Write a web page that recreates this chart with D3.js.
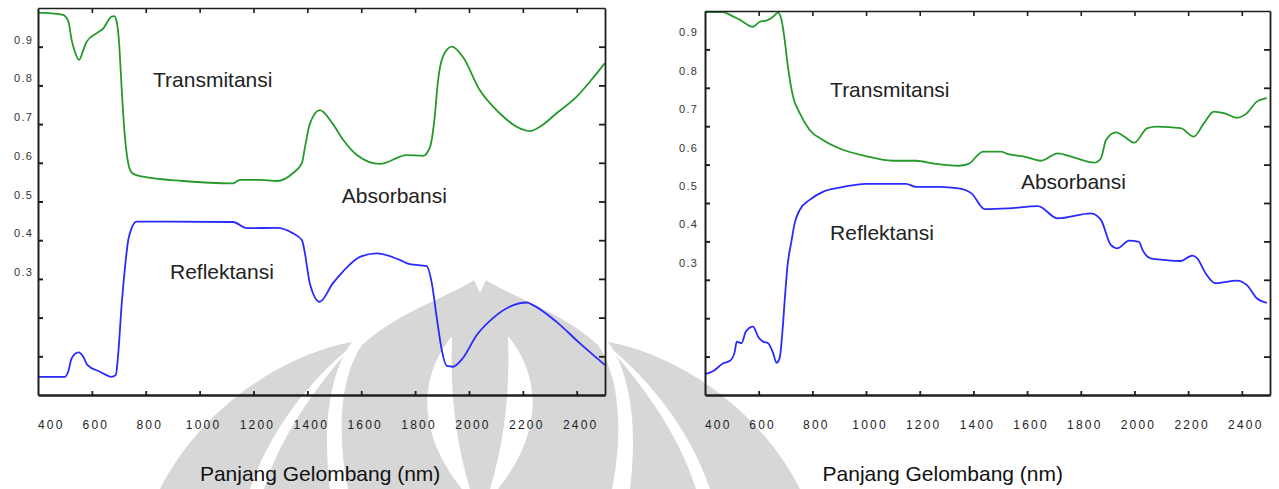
<!DOCTYPE html>
<html>
<head>
<meta charset="utf-8">
<script src="https://cdn.jsdelivr.net/npm/d3@7"></script>
<style>
  html, body { margin: 0; padding: 0; background: #fff; }
  svg { display: block; font-family: Arial, "Liberation Sans", sans-serif; }
  .axis path, .axis line { stroke: #1e1e1e; }
  .tick-x { font-size: 12px; letter-spacing: 2.2px; fill: #222; }
  .tick-y { font-size: 11px; letter-spacing: 1.2px; fill: #333; }
  .note { font-size: 21px; fill: #222; }
  .axis-title { font-size: 21px; fill: #111; }
  .watermark { fill: #d7d7d7; }
  .watermark-gap { fill: #fff; }
</style>
</head>
<body>
<svg id="chart" width="1279" height="489"></svg>
<script>
const xTicks = [400, 600, 800, 1000, 1200, 1400, 1600, 1800, 2000, 2200, 2400];
const yTicks = [0.1, 0.2, 0.3, 0.4, 0.5, 0.6, 0.7, 0.8, 0.9];
const yLabels = [0.3, 0.4, 0.5, 0.6, 0.7, 0.8, 0.9];
const xDomain = [400, 2505];

// [panjang gelombang (nm), nilai]
const leftTransmitansi = [
  [400, 0.988], [450, 0.986], [493, 0.982], [513, 0.965], [525, 0.917], [537, 0.887],
  [553, 0.866], [568, 0.891], [581, 0.913], [618, 0.935], [642, 0.947], [673, 0.978],
  [683, 0.979], [692, 0.965], [700, 0.92], [710, 0.80], [720, 0.69], [730, 0.62],
  [740, 0.585], [752, 0.572], [790, 0.564], [938, 0.553], [1124, 0.547], [1150, 0.556],
  [1224, 0.556], [1287, 0.553], [1346, 0.573], [1380, 0.60], [1391, 0.64], [1409, 0.70],
  [1446, 0.736], [1495, 0.70], [1532, 0.66], [1584, 0.62], [1669, 0.597], [1769, 0.62],
  [1829, 0.618], [1855, 0.64], [1873, 0.72], [1884, 0.806], [1903, 0.874], [1936, 0.90],
  [1977, 0.874], [2040, 0.788], [2114, 0.728], [2177, 0.693], [2226, 0.682], [2263, 0.693],
  [2325, 0.728], [2400, 0.771], [2459, 0.818], [2504, 0.857]
];

const leftReflektansi = [
  [400, 0.047], [500, 0.047], [512, 0.06], [525, 0.095], [550, 0.110], [568, 0.099],
  [583, 0.078], [630, 0.06], [673, 0.047], [689, 0.052], [698, 0.108], [710, 0.228],
  [723, 0.33], [735, 0.40], [745, 0.426], [766, 0.448], [1124, 0.447], [1175, 0.431],
  [1287, 0.432], [1346, 0.418], [1380, 0.40], [1390, 0.37], [1409, 0.289], [1446, 0.241],
  [1495, 0.289], [1532, 0.319], [1595, 0.357], [1658, 0.366], [1743, 0.349], [1780, 0.338],
  [1843, 0.333], [1862, 0.289], [1880, 0.202], [1899, 0.116], [1918, 0.075], [1940, 0.073],
  [1977, 0.095], [2029, 0.155], [2088, 0.198], [2151, 0.228], [2214, 0.239], [2236, 0.233],
  [2325, 0.189], [2411, 0.134], [2504, 0.078]
];

const rightTransmitansi = [
  [400, 0.997], [468, 0.997], [493, 0.99], [530, 0.977], [579, 0.959], [604, 0.972],
  [629, 0.975], [654, 0.985], [672, 0.996], [685, 0.977], [697, 0.924], [709, 0.855],
  [728, 0.777], [753, 0.734], [790, 0.69], [839, 0.664], [901, 0.642], [1000, 0.622],
  [1099, 0.61], [1186, 0.61], [1247, 0.603], [1345, 0.597], [1380, 0.601], [1436, 0.634],
  [1504, 0.634], [1529, 0.627], [1590, 0.621], [1652, 0.61], [1714, 0.629], [1776, 0.618],
  [1850, 0.605], [1875, 0.616], [1894, 0.664], [1931, 0.684], [1962, 0.673], [1999, 0.657],
  [2048, 0.695], [2085, 0.699], [2172, 0.695], [2221, 0.673], [2259, 0.708], [2296, 0.738],
  [2333, 0.734], [2382, 0.722], [2419, 0.734], [2456, 0.764], [2493, 0.773]
];

const rightReflektansi = [
  [400, 0.054], [431, 0.0625], [468, 0.0825], [493, 0.089], [511, 0.113], [518, 0.139],
  [536, 0.135], [552, 0.165], [579, 0.178], [598, 0.152], [616, 0.139], [635, 0.135],
  [654, 0.109], [666, 0.084], [678, 0.096], [688, 0.161], [697, 0.247], [707, 0.334],
  [722, 0.40], [734, 0.447], [753, 0.482], [790, 0.508], [839, 0.529], [901, 0.54],
  [1000, 0.55], [1149, 0.55], [1186, 0.542], [1272, 0.542], [1345, 0.538], [1393, 0.525],
  [1442, 0.484], [1529, 0.486], [1640, 0.492], [1714, 0.46], [1838, 0.473], [1875, 0.456],
  [1912, 0.391], [1937, 0.382], [1980, 0.402], [2017, 0.399], [2030, 0.378], [2060, 0.356],
  [2110, 0.352], [2172, 0.349], [2215, 0.363], [2234, 0.356], [2265, 0.317], [2302, 0.291],
  [2382, 0.298], [2419, 0.286], [2456, 0.252], [2493, 0.24]
];

const leftNotes = [
  { text: "Transmitansi", nm: 827, value: 0.797 },
  { text: "Absorbansi", nm: 1528, value: 0.497 },
  { text: "Reflektansi", nm: 890, value: 0.301 }
];

const rightNotes = [
  { text: "Transmitansi", nm: 866, value: 0.776 },
  { text: "Absorbansi", nm: 1577, value: 0.536 },
  { text: "Reflektansi", nm: 866, value: 0.404 }
];

const svg = d3.select("#chart");

// watermark (logo samar di latar belakang)
const mark = svg.append("g");
mark.append("path").attr("class", "watermark")
  .attr("d", "M160,489 C200,410 280,355 352,342 C330,372 322,425 330,489 Z");
mark.append("path").attr("class", "watermark")
  .attr("d", "M800,489 C760,410 680,355 608,342 C630,372 638,425 630,489 Z");
mark.append("path").attr("class", "watermark")
  .attr("d", "M480,276 C455,295 400,310 362,345 C338,380 338,440 348,489 L612,489 C622,440 622,380 598,345 C560,310 505,295 480,276 Z");
mark.append("path").attr("class", "watermark-gap")
  .attr("d", "M352,346 C310,380 270,430 250,489 L264,489 C282,432 318,385 352,346 Z");
mark.append("path").attr("class", "watermark-gap")
  .attr("d", "M608,346 C650,380 690,430 710,489 L696,489 C678,432 642,385 608,346 Z");
mark.append("path").attr("class", "watermark-gap")
  .attr("d", "M452,336 C420,375 415,430 462,489 L470,489 C455,440 450,390 452,336 Z");
mark.append("path").attr("class", "watermark-gap")
  .attr("d", "M508,336 C540,375 545,430 498,489 L490,489 C505,440 510,390 508,336 Z");
mark.append("path").attr("class", "watermark-gap")
  .attr("d", "M472,276 L480,293 L488,276 Z");

function drawPanel(panel) {
  const x = d3.scaleLinear().domain(xDomain).range([panel.left, panel.right]);
  const y = d3.scaleLinear().domain([0, 1]).range([panel.bottom, panel.top]);
  const g = svg.append("g");

  const line = d3.line()
    .x((d) => x(d[0]))
    .y((d) => y(d[1]))
    .curve(d3.curveMonotoneX);

  g.append("path")
    .datum(panel.transmitansi)
    .attr("fill", "none")
    .attr("stroke", "#25992a")
    .attr("stroke-width", 1.8)
    .attr("d", line);

  g.append("path")
    .datum(panel.reflektansi)
    .attr("fill", "none")
    .attr("stroke", "#2a2aff")
    .attr("stroke-width", 1.8)
    .attr("d", line);

  const innerX = xTicks.slice(1);

  g.append("g")
    .attr("class", "axis")
    .attr("transform", `translate(0, ${panel.top})`)
    .call(d3.axisTop(x).tickValues(innerX).tickSize(-5).tickSizeOuter(0).tickFormat(""))
    .call((a) => a.selectAll("path, line").attr("stroke-width", 1.6));

  g.append("g")
    .attr("class", "axis")
    .attr("transform", `translate(${panel.right}, 0)`)
    .call(d3.axisRight(y).tickValues(yTicks).tickSize(-6).tickSizeOuter(0).tickFormat(""))
    .call((a) => a.selectAll("path, line").attr("stroke-width", 1.8));

  g.append("g")
    .attr("class", "axis")
    .attr("transform", `translate(${panel.left}, 0)`)
    .call(d3.axisLeft(y).tickValues(yTicks).tickSize(-5).tickSizeOuter(0).tickFormat(""))
    .call((a) => a.selectAll("path, line").attr("stroke-width", 2));

  g.append("g")
    .attr("class", "axis")
    .attr("transform", `translate(0, ${panel.bottom})`)
    .call(d3.axisBottom(x).tickValues(innerX).tickSize(-4).tickSizeOuter(0).tickFormat(""))
    .call((a) => a.select("path").attr("stroke-width", 2.6))
    .call((a) => a.selectAll("line").attr("stroke-width", 1.8));

  g.selectAll(".tick-x")
    .data(xTicks)
    .join("text")
    .attr("class", "tick-x")
    .attr("x", (d, i) => (i === 0 ? x(d) : x(d) + 4))
    .attr("y", panel.bottom + 34)
    .attr("text-anchor", (d, i) => (i === 0 ? "start" : "middle"))
    .text((d) => d);

  g.selectAll(".tick-y")
    .data(yLabels)
    .join("text")
    .attr("class", "tick-y")
    .attr("x", panel.left - panel.labelPad)
    .attr("y", (d) => y(d) + panel.labelShift)
    .attr("text-anchor", "end")
    .text((d) => d3.format(".1f")(d));

  g.selectAll(".note")
    .data(panel.notes)
    .join("text")
    .attr("class", "note")
    .attr("x", (d) => x(d.nm))
    .attr("y", (d) => y(d.value))
    .text((d) => d.text);

  g.append("text")
    .attr("class", "axis-title")
    .attr("x", x(panel.titleNm))
    .attr("y", 480.5)
    .text("Panjang Gelombang (nm)");
}

drawPanel({
  left: 38, right: 605, top: 8, bottom: 395,
  labelPad: 5, labelShift: -3, titleNm: 1001,
  transmitansi: leftTransmitansi, reflektansi: leftReflektansi, notes: leftNotes
});

drawPanel({
  left: 705, right: 1270, top: 11, bottom: 395,
  labelPad: 7, labelShift: -13, titleNm: 838,
  transmitansi: rightTransmitansi, reflektansi: rightReflektansi, notes: rightNotes
});
</script>
</body>
</html>
